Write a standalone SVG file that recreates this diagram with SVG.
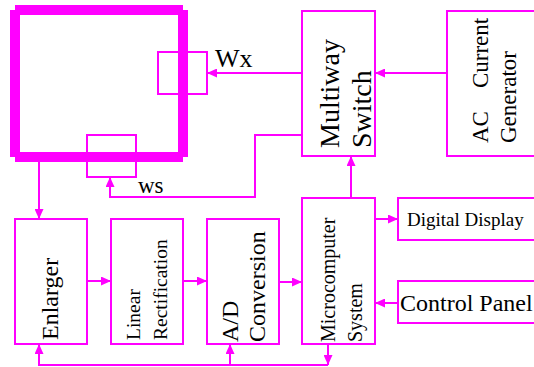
<svg xmlns="http://www.w3.org/2000/svg" width="534" height="367" viewBox="0 0 534 367">
<style>
.box{fill:none;stroke:#ff00ff;stroke-width:2}
.thick{stroke:#ff00ff;stroke-width:10;fill:none}
.ln{fill:none;stroke:#ff00ff;stroke-width:2}
.t{font-family:"Liberation Serif","Times New Roman",serif;fill:#000}
</style>
<defs>
<marker id="ah" markerUnits="userSpaceOnUse" markerWidth="10" markerHeight="9" refX="10" refY="4.5" orient="auto" viewBox="0 0 10 9">
<path d="M0,0 L10,4.5 L0,9 z" fill="#ff00ff"/>
</marker>
</defs>
<rect width="534" height="367" fill="#fff"/>
<g id="sample">
<line class="thick" x1="15" y1="10" x2="183" y2="10"/>
<line class="thick" x1="15" y1="157" x2="183" y2="157"/>
<line class="thick" x1="15" y1="10" x2="15" y2="157"/>
<line class="thick" x1="183" y1="10" x2="183" y2="157"/>
</g>
<g id="wx">
<rect class="box" x="158" y="52" width="49" height="42"/>
<text class="t" x="215" y="67" font-size="26">Wx</text>
</g>
<g id="ws">
<rect class="box" x="87" y="135" width="49" height="42"/>
<text class="t" x="138" y="193" font-size="23">ws</text>
</g>
<g id="multiway">
<rect class="box" x="302" y="11" width="73" height="145"/>
<text class="t" font-size="28" transform="translate(339,148) rotate(-90)">Multiway</text>
<text class="t" font-size="28" transform="translate(371,148) rotate(-90)">Switch</text>
</g>
<g id="ac">
<rect class="box" x="447" y="11" width="100" height="145"/>
<text class="t" font-size="23" transform="translate(488,143) rotate(-90)" xml:space="preserve">AC    Current</text>
<text class="t" font-size="23" transform="translate(516,143) rotate(-90)">Generator</text>
</g>
<g id="enlarger">
<rect class="box" x="15" y="219" width="72" height="125"/>
<text class="t" font-size="24" transform="translate(58,340) rotate(-90)">Enlarger</text>
</g>
<g id="linear">
<rect class="box" x="111" y="219" width="72" height="125"/>
<text class="t" font-size="19.5" transform="translate(140,340) rotate(-90)">Linear</text>
<text class="t" font-size="19.5" transform="translate(167,340) rotate(-90)">Rectification</text>
</g>
<g id="ad">
<rect class="box" x="207" y="219" width="72" height="125"/>
<text class="t" font-size="24" transform="translate(238,342) rotate(-90)">A/D</text>
<text class="t" font-size="24" transform="translate(265,342) rotate(-90)">Conversion</text>
</g>
<g id="micro">
<rect class="box" x="302" y="198" width="73" height="146"/>
<text class="t" font-size="20" transform="translate(335,342) rotate(-90)">Microcomputer</text>
<text class="t" font-size="20" transform="translate(362,342) rotate(-90)">System</text>
</g>
<g id="display">
<rect class="box" x="398" y="198" width="150" height="42"/>
<text class="t" x="407" y="226" font-size="19">Digital Display</text>
</g>
<g id="control">
<rect class="box" x="398" y="281" width="150" height="42"/>
<text class="t" x="400" y="311" font-size="24">Control Panel</text>
</g>
<g id="connectors">
<line class="ln" x1="447" y1="73" x2="375" y2="73" marker-end="url(#ah)"/>
<line class="ln" x1="302" y1="73" x2="207" y2="73" marker-end="url(#ah)"/>
<polyline class="ln" points="302,135 255,135 255,197 110,197 110,177" marker-end="url(#ah)"/>
<line class="ln" x1="39" y1="162" x2="39" y2="219" marker-end="url(#ah)"/>
<line class="ln" x1="87" y1="281" x2="111" y2="281" marker-end="url(#ah)"/>
<line class="ln" x1="183" y1="281" x2="207" y2="281" marker-end="url(#ah)"/>
<line class="ln" x1="279" y1="282" x2="302" y2="282" marker-end="url(#ah)"/>
<line class="ln" x1="351" y1="198" x2="351" y2="156" marker-end="url(#ah)"/>
<line class="ln" x1="375" y1="219" x2="398" y2="219" marker-end="url(#ah)"/>
<line class="ln" x1="398" y1="303" x2="375" y2="303" marker-end="url(#ah)"/>
<line class="ln" x1="328" y1="344" x2="328" y2="365" marker-end="url(#ah)"/>
<polyline class="ln" points="328,365 39,365 39,344" marker-end="url(#ah)"/>
<line class="ln" x1="230" y1="365" x2="230" y2="344" marker-end="url(#ah)"/>
</g>
</svg>
